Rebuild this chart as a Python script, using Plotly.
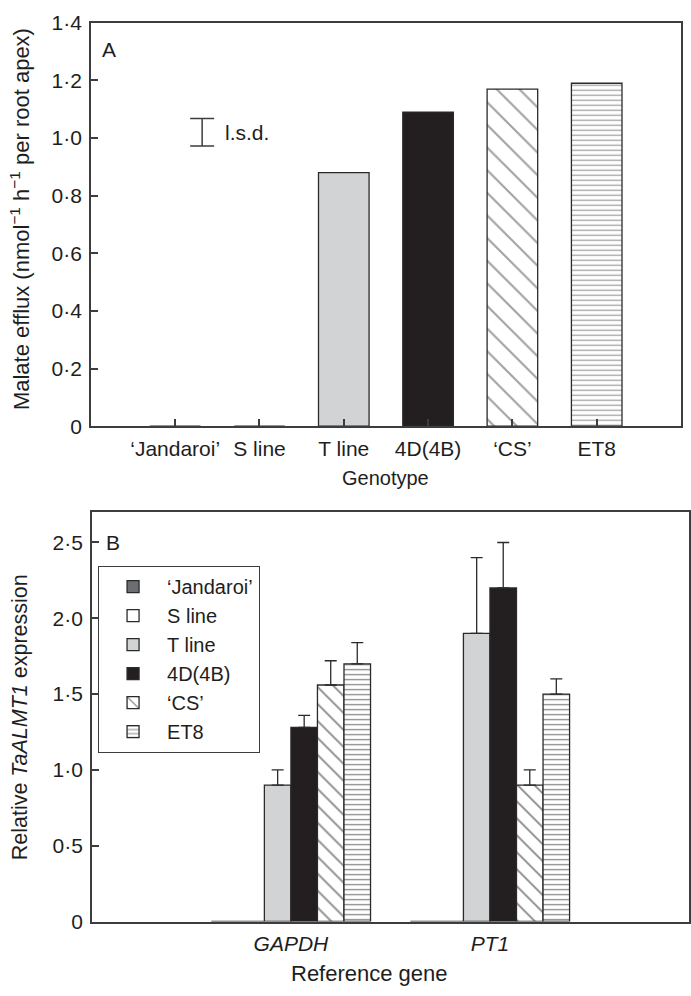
import plotly.graph_objects as go

W, H = 691, 996

# ---------------- data ----------------
genotypes = ["‘Jandaroi’", "S line", "T line", "4D(4B)", "‘CS’", "ET8"]
malate_efflux = [0.0, 0.0, 0.88, 1.09, 1.17, 1.19]
lsd_center = 1.02
lsd_half = 0.048
lsd_xpos = 0.32

genes = ["GAPDH", "PT1"]
gene_labels = ["<i>GAPDH</i>", "<i>PT1</i>"]
expr_jandaroi = [0.0, 0.0]
expr_sline = [0.0, 0.0]
expr_tline = [0.90, 1.90]
expr_4d4b = [1.28, 2.20]
expr_cs = [1.56, 0.90]
expr_et8 = [1.70, 1.50]
err_tline = [0.10, 0.50]
err_4d4b = [0.08, 0.30]
err_cs = [0.16, 0.10]
err_et8 = [0.14, 0.10]

top_tickvals = [0, 0.2, 0.4, 0.6, 0.8, 1.0, 1.2, 1.4]
top_ticktext = ["0", "0·2", "0·4", "0·6", "0·8", "1·0", "1·2", "1·4"]
bot_tickvals = [0, 0.5, 1.0, 1.5, 2.0, 2.5]
bot_ticktext = ["0", "0·5", "1·0", "1·5", "2·0", "2·5"]

# ---------------- styles ----------------
FONT = "Liberation Sans, Arial, Helvetica, sans-serif"
AX = "#3d3d3d"
EDGE = "#2a2a2a"
TXT = "#1e1e1e"
fills = ["#6d6e71", "#ffffff", "#d1d3d4", "#231f20", "#ffffff", "#ffffff"]
shapes_ = ["", "", "", "", "\\", "-"]


def px(x):
    return x / W


def py(y):
    return 1 - y / H


fig = go.Figure()

# ---- Panel A ----
fig.add_trace(go.Bar(
    x=list(range(len(genotypes))), y=malate_efflux, width=0.6,
    marker=dict(color=fills, line=dict(color=EDGE, width=1.3),
                pattern=dict(shape=shapes_, fgcolor="#101010", bgcolor="white",
                             size=[8, 8, 8, 8, 16, 5], solidity=[0.2, 0.2, 0.2, 0.2, 0.13, 0.26])),
    xaxis="x", yaxis="y", showlegend=False, hoverinfo="skip"))

fig.add_trace(go.Scatter(
    x=[lsd_xpos], y=[lsd_center], mode="markers",
    marker=dict(size=1, color="rgba(0,0,0,0)"),
    error_y=dict(type="data", array=[lsd_half], symmetric=True, color=AX, thickness=1.5, width=12),
    xaxis="x", yaxis="y", showlegend=False, hoverinfo="skip"))

# ---- Panel B ----
series = [
    (genotypes[0], expr_jandaroi, None),
    (genotypes[1], expr_sline, None),
    (genotypes[2], expr_tline, err_tline),
    (genotypes[3], expr_4d4b, err_4d4b),
    (genotypes[4], expr_cs, err_cs),
    (genotypes[5], expr_et8, err_et8),
]
for i, (name, vals, errs) in enumerate(series):
    marker = dict(color=fills[i], line=dict(color=EDGE, width=1.3))
    if shapes_[i]:
        marker["pattern"] = dict(shape=shapes_[i], fgcolor="#101010", bgcolor="white",
                                 size=12 if shapes_[i] == "\\" else 5,
                                 solidity=0.15 if shapes_[i] == "\\" else 0.26)
    tr = go.Bar(x=genes, y=vals, name=name, marker=marker,
                xaxis="x2", yaxis="y2", hoverinfo="skip")
    if errs is not None:
        tr.error_y = dict(type="data", array=errs, arrayminus=[0] * len(errs),
                          symmetric=False, color=EDGE, thickness=1.3, width=6)
    fig.add_trace(tr)

axis_common = dict(showline=True, mirror=True, linecolor=AX, linewidth=1.5,
                   showgrid=False, zeroline=False, ticks="inside", ticklen=7,
                   tickcolor=AX, tickwidth=1.5, ticklabeloverflow="allow",
                   layer="above traces",
                   tickfont=dict(family=FONT, size=21, color=TXT))

fig.update_layout(
    width=W, height=H,
    margin=dict(l=0, r=0, t=0, b=0),
    paper_bgcolor="white", plot_bgcolor="white",
    barmode="group", bargap=0.2, bargroupgap=0,
    font=dict(family=FONT, size=20, color=TXT),
    xaxis=dict(domain=[px(91), px(682)], anchor="y", range=[-1, 6],
               tickmode="array", tickvals=list(range(len(genotypes))), ticktext=genotypes,
               ticklabelstandoff=3, **axis_common),
    yaxis=dict(domain=[py(424), py(11)], anchor="x", range=[0, 1.4],
               tickmode="array", tickvals=top_tickvals, ticktext=top_ticktext,
               ticklabelstandoff=3, **axis_common),
    xaxis2=dict(domain=[px(92), px(690)], anchor="y2", range=[-1, 2],
                type="category", tickmode="array", tickvals=genes, ticktext=gene_labels,
                ticklabelstandoff=3, **{**axis_common, "ticks": ""}),
    yaxis2=dict(domain=[py(931), py(512)], anchor="x2", range=[0, 2.7],
                tickmode="array", tickvals=bot_tickvals, ticktext=bot_ticktext,
                ticklabelstandoff=3, **axis_common),
    legend=dict(x=px(98), y=py(567), xanchor="left", yanchor="top",
                bordercolor=AX, borderwidth=1.2, bgcolor="white",
                font=dict(family=FONT, size=20, color=TXT),
                tracegroupgap=0, itemwidth=58),
    showlegend=True,
)

ann = [
    dict(x=px(20), y=py(212), text="Malate efflux (nmol<sup>−1</sup> h<sup>−1</sup> per root apex)",
         textangle=-90, font=dict(size=22)),
    dict(x=px(386), y=py(477), text="Genotype", font=dict(size=20)),
    dict(x=px(20), y=py(722), text="Relative <i>TaALMT1</i> expression",
         textangle=-90, font=dict(size=21.5)),
    dict(x=px(370), y=py(984), text="Reference gene", font=dict(size=22)),
    dict(x=px(109), y=py(38), text="A", font=dict(size=21)),
    dict(x=px(113), y=py(543), text="B", font=dict(size=21)),
    dict(x=px(247), y=py(123), text="l.s.d.", font=dict(size=21)),
]
for a in ann:
    a.update(xref="paper", yref="paper", showarrow=False, xanchor="center", yanchor="middle")
    a["font"] = dict(family=FONT, color=TXT, **a["font"])
fig.update_layout(annotations=ann)

fig.write_html("out.html", config={"displayModeBar": False},
               post_script="document.body.style.margin='0';")
